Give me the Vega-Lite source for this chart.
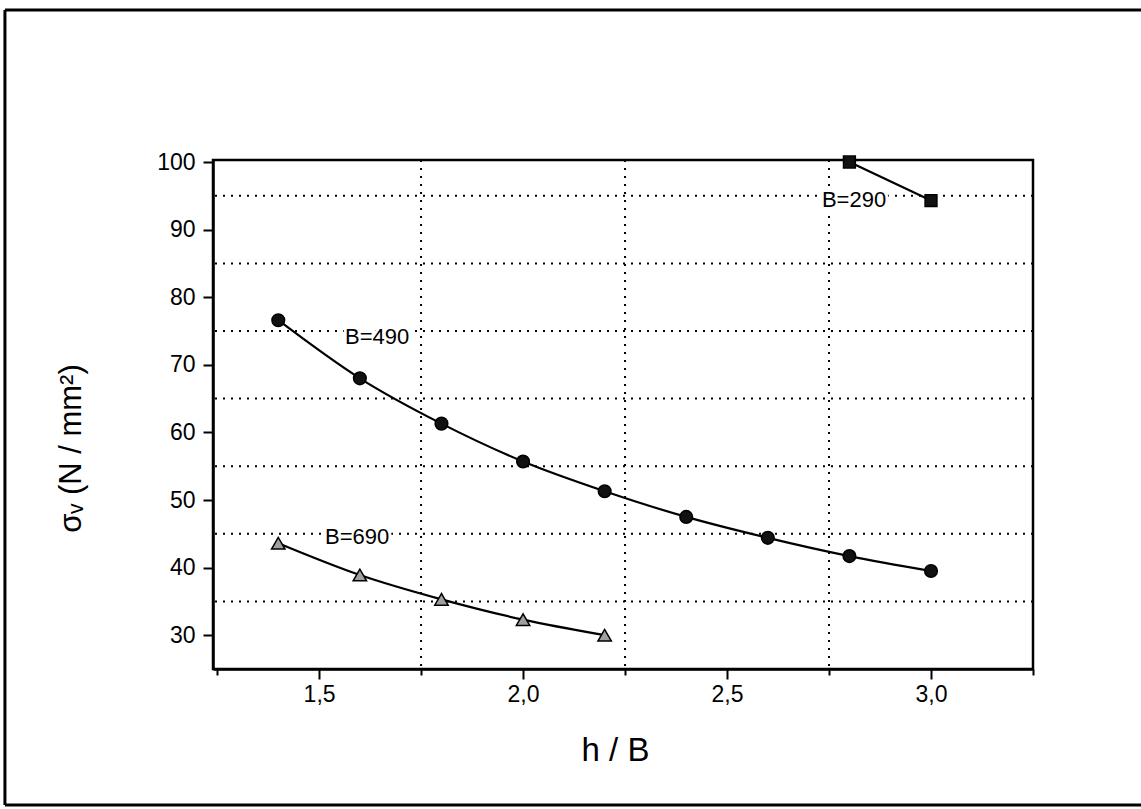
{
  "$schema": "https://vega.github.io/schema/vega-lite/v6.json",
  "autosize": "none",
  "width": 820,
  "height": 509,
  "padding": {"left": 213, "top": 160, "right": 108, "bottom": 140},
  "background": "white",
  "config": {
    "font": "Liberation Sans",
    "view": {"stroke": "black", "strokeWidth": 2.5},
    "axis": {
      "domainColor": "black",
      "domainWidth": 2.5,
      "tickColor": "black",
      "tickWidth": 2,
      "labelColor": "black",
      "titleColor": "black",
      "labelFont": "Liberation Sans",
      "titleFont": "Liberation Sans",
      "labelFontSize": 23,
      "titleFontWeight": "normal",
      "grid": false
    }
  },
  "datasets": {
    "pts": [
      {"series": "B=290", "hB": 2.8, "sigma": 100.0},
      {"series": "B=290", "hB": 3.0, "sigma": 94.3},
      {"series": "B=490", "hB": 1.4, "sigma": 76.6},
      {"series": "B=490", "hB": 1.6, "sigma": 68.0},
      {"series": "B=490", "hB": 1.8, "sigma": 61.3},
      {"series": "B=490", "hB": 2.0, "sigma": 55.7},
      {"series": "B=490", "hB": 2.2, "sigma": 51.3},
      {"series": "B=490", "hB": 2.4, "sigma": 47.5},
      {"series": "B=490", "hB": 2.6, "sigma": 44.4},
      {"series": "B=490", "hB": 2.8, "sigma": 41.7},
      {"series": "B=490", "hB": 3.0, "sigma": 39.5},
      {"series": "B=690", "hB": 1.4, "sigma": 43.6},
      {"series": "B=690", "hB": 1.6, "sigma": 38.9},
      {"series": "B=690", "hB": 1.8, "sigma": 35.3},
      {"series": "B=690", "hB": 2.0, "sigma": 32.3},
      {"series": "B=690", "hB": 2.2, "sigma": 30.0}
    ],
    "labels": [
      {"label": "B=490", "hB": 1.5635, "sigma": 74.1},
      {"label": "B=690", "hB": 1.5145, "sigma": 44.5},
      {"label": "B=290", "hB": 2.7326, "sigma": 94.4}
    ],
    "gridx": [{"v": 1.75}, {"v": 2.25}, {"v": 2.75}],
    "gridy": [{"v": 35}, {"v": 45}, {"v": 55}, {"v": 65}, {"v": 75}, {"v": 85}, {"v": 95}],
    "frame": [
      {"x1": 0.73, "x2": 0.73, "y1": 4.88, "y2": 122.49},
      {"x1": 0.73, "x2": 4.5, "y1": 122.49, "y2": 122.49},
      {"x1": 0.73, "x2": 4.5, "y1": 4.88, "y2": 4.88}
    ]
  },
  "layer": [
    {
      "data": {"name": "gridx"},
      "mark": {"type": "rule", "color": "black", "strokeWidth": 2, "strokeDash": [2, 6]},
      "encoding": {
        "x": {"field": "v", "type": "quantitative", "title": "h / B"}
      }
    },
    {
      "data": {"name": "gridy"},
      "mark": {"type": "rule", "color": "black", "strokeWidth": 2, "strokeDash": [2, 6]},
      "encoding": {
        "y": {"field": "v", "type": "quantitative", "title": "σᵥ (N / mm²)"}
      }
    },
    {
      "data": {"name": "pts"},
      "mark": {"type": "line", "color": "black", "strokeWidth": 2.2, "interpolate": "monotone"},
      "encoding": {
        "detail": {"field": "series"},
        "x": {
          "field": "hB", "type": "quantitative",
          "scale": {"domain": [1.24, 3.25], "nice": false, "zero": false},
          "axis": {
            "title": "h / B",
            "titleFontSize": 33,
            "titleAnchor": "start",
            "titleAlign": "center",
            "titleBaseline": "alphabetic",
            "titleX": 402,
            "titleY": 91,
            "values": [1.25, 1.5, 1.75, 2.0, 2.25, 2.5, 2.75, 3.0, 3.25],
            "labelExpr": "datum.value % 0.5 == 0 ? replace(format(datum.value, '.1f'), '.', ',') : ''",
            "labelPadding": 4,
            "tickSize": {"condition": {"test": "datum.value % 0.5 != 0", "value": 6}, "value": 10}
          }
        },
        "y": {
          "field": "sigma", "type": "quantitative",
          "scale": {"domain": [25, 100.3], "nice": false, "zero": false},
          "axis": {
            "title": "σᵥ (N / mm²)",
            "titleFontSize": 31,
            "titleAngle": -90,
            "titleAnchor": "start",
            "titleAlign": "center",
            "titleBaseline": "alphabetic",
            "titleX": -133,
            "titleY": 288,
            "values": [30, 35, 40, 45, 50, 55, 60, 65, 70, 75, 80, 85, 90, 95, 100],
            "labelExpr": "datum.value % 10 == 0 ? datum.label : ''",
            "labelPadding": 8,
            "tickSize": {"condition": {"test": "datum.value % 10 != 0", "value": 6}, "value": 10}
          }
        }
      }
    },
    {
      "data": {"name": "pts"},
      "mark": {"type": "point", "filled": true, "stroke": "black", "strokeWidth": 1.5, "opacity": 1},
      "encoding": {
        "x": {"field": "hB", "type": "quantitative", "title": "h / B"},
        "y": {"field": "sigma", "type": "quantitative", "title": "σᵥ (N / mm²)"},
        "shape": {"field": "series", "type": "nominal", "legend": null,
          "scale": {"domain": ["B=290", "B=490", "B=690"], "range": ["square", "circle", "triangle-up"]}},
        "fill": {"field": "series", "type": "nominal", "legend": null,
          "scale": {"domain": ["B=290", "B=490", "B=690"], "range": ["#111111", "#111111", "#a0a0a0"]}},
        "size": {"field": "series", "type": "nominal", "legend": null,
          "scale": {"domain": ["B=290", "B=490", "B=690"], "range": [140, 180, 120]}}
      }
    },
    {
      "data": {"name": "labels"},
      "mark": {"type": "text", "align": "left", "baseline": "middle", "fontSize": 22, "font": "Liberation Sans", "color": "white", "stroke": "white", "strokeWidth": 6},
      "encoding": {
        "x": {"field": "hB", "type": "quantitative", "title": "h / B"},
        "y": {"field": "sigma", "type": "quantitative", "title": "σᵥ (N / mm²)"},
        "text": {"field": "label"}
      }
    },
    {
      "data": {"name": "labels"},
      "mark": {"type": "text", "align": "left", "baseline": "middle", "fontSize": 22, "font": "Liberation Sans", "color": "black"},
      "encoding": {
        "x": {"field": "hB", "type": "quantitative", "title": "h / B"},
        "y": {"field": "sigma", "type": "quantitative", "title": "σᵥ (N / mm²)"},
        "text": {"field": "label"}
      }
    },
    {
      "data": {"name": "frame"},
      "mark": {"type": "rule", "color": "black", "strokeWidth": 3, "clip": false},
      "encoding": {
        "x": {"field": "x1", "type": "quantitative", "title": "h / B"},
        "x2": {"field": "x2"},
        "y": {"field": "y1", "type": "quantitative", "title": "σᵥ (N / mm²)"},
        "y2": {"field": "y2"}
      }
    }
  ]
}
